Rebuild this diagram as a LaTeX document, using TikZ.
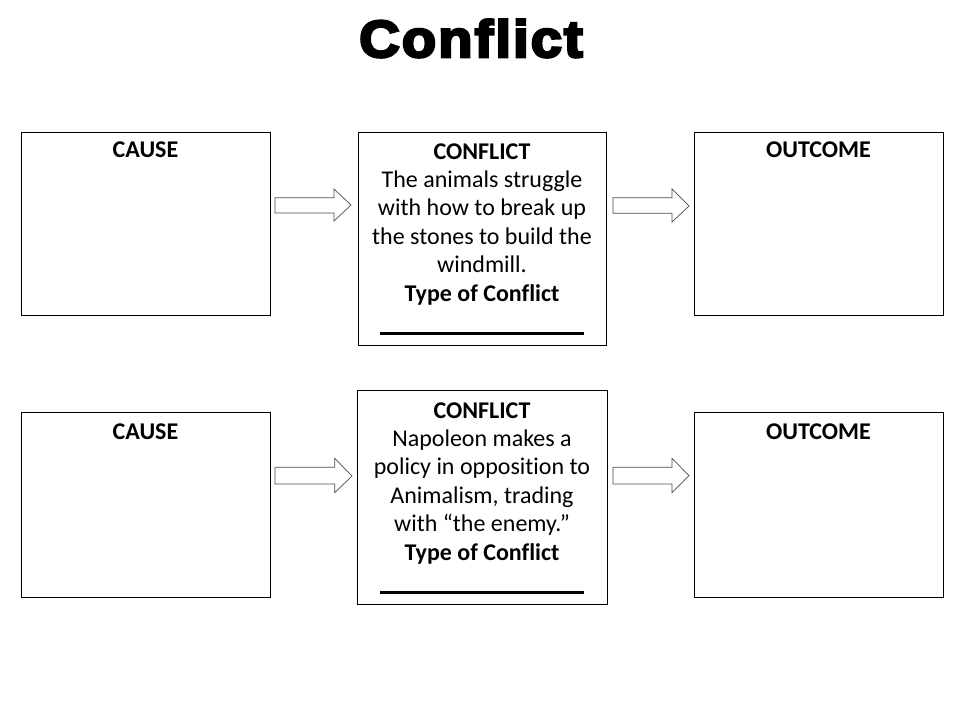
\documentclass[tikz,border=0pt]{standalone}
\usepackage{fontspec}
\setmainfont{Carlito}[Ligatures=NoCommon]
\newfontfamily\titlefont[FakeBold=5,FakeStretch=1.08,LetterSpace=4,Ligatures=NoCommon]{Liberation Sans Bold}
\begin{document}
\begin{tikzpicture}[x=1pt,y=-1pt,
  box/.style={draw=black,line width=1pt,inner sep=0pt,anchor=north west},
  headtext/.style={font=\fontsize{24}{28.4}\selectfont\bfseries,anchor=base,inner sep=0pt},
  bodytext/.style={font=\fontsize{24}{28.4}\selectfont,align=center,anchor=north,inner sep=0pt},
  blockarrow/.style={draw=black!70,line width=0.7pt,fill=white,line join=miter}]
\useasboundingbox[fill=white] (0,0) rectangle (960,720);

\node[inner sep=0pt,anchor=base] (title) at (471,57) {\titlefont\fontsize{52}{60}\selectfont Conflict};

% top row
\node[box,minimum width=249pt,minimum height=183pt] (cause1) at (21,132) {};
\node[box,minimum width=248pt,minimum height=213pt] (conf1) at (358,132) {};
\node[box,minimum width=249pt,minimum height=183pt] (out1) at (694,132) {};
\node[headtext] (cause1t) at (145.5,157.3) {CAUSE};
\node[headtext] (out1t) at (818.5,157.3) {OUTCOME};
\node[bodytext] (conf1t) at (482,143.2) {\textbf{CONFLICT}\\The animals struggle\\with how to break up\\the stones to build the\\windmill.\\\textbf{Type of Conflict}\\\rule[-5pt]{204pt}{2.4pt}};

% bottom row
\node[box,minimum width=249pt,minimum height=185pt] (cause2) at (21,412) {};
\node[box,minimum width=250pt,minimum height=214pt] (conf2) at (357,390) {};
\node[box,minimum width=249pt,minimum height=185pt] (out2) at (694,412) {};
\node[headtext] (cause2t) at (145.5,439) {CAUSE};
\node[headtext] (out2t) at (818.5,439) {OUTCOME};
\node[bodytext] (conf2t) at (482,402.2) {\textbf{CONFLICT}\\Napoleon makes a\\policy in opposition to\\Animalism, trading\\with \textquotedblleft the enemy.\textquotedblright\\\textbf{Type of Conflict}\\\rule[-5pt]{204pt}{2.4pt}};

% block arrows
\draw[blockarrow] (275,197.7) -- (334,197.7) -- (334,189) -- (351,205) -- (334,221) -- (334,213) -- (275,213) -- cycle;
\draw[blockarrow] (613,197.7) -- (672,197.7) -- (672,189) -- (689,206) -- (672,222) -- (672,213.3) -- (613,213.3) -- cycle;
\draw[blockarrow] (275,467.3) -- (334.7,467.3) -- (334.7,458.3) -- (352,476) -- (334.7,492.7) -- (334.7,484) -- (275,484) -- cycle;
\draw[blockarrow] (613,467.3) -- (672,467.3) -- (672,458.3) -- (689,475.7) -- (672,492.7) -- (672,484) -- (613,484) -- cycle;
\end{tikzpicture}
\end{document}
